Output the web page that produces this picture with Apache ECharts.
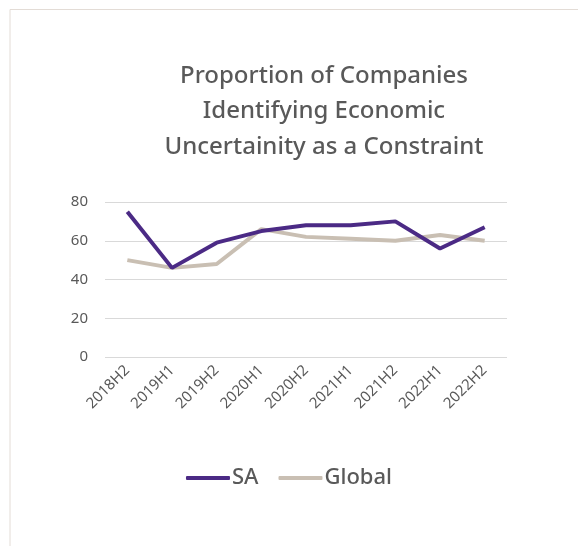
<!DOCTYPE html>
<html>
<head>
<meta charset="utf-8">
<script src="https://cdn.jsdelivr.net/npm/echarts@6/dist/echarts.min.js"></script>
<style>
  html, body { margin: 0; padding: 0; background: #fff; }
  #chart { width: 578px; height: 546px; }
</style>
</head>
<body>
<div id="chart"></div>
<script>
// Half-year periods on the category axis
const periods = ['2018H2', '2019H1', '2019H2', '2020H1', '2020H2', '2021H1', '2021H2', '2022H1', '2022H2'];
// Share of companies (%) naming economic uncertainty as a constraint
const saValues = [75, 46, 59, 65, 68, 68, 70, 56, 67];
const globalValues = [50, 46, 48, 66, 62, 61, 60, 63, 60];
// Value axis ticks
const yTicks = [0, 20, 40, 60, 80];

const textColor = '#595959';
const font = '"Noto Sans", sans-serif';

const chart = echarts.init(document.getElementById('chart'), null, { renderer: 'canvas' });
chart.setOption({
  backgroundColor: '#ffffff',
  animation: false,
  title: {
    text: 'Proportion of Companies\nIdentifying Economic\nUncertainity as a Constraint',
    left: 319,
    top: 53,
    textAlign: 'center',
    textStyle: {
      fontFamily: font,
      fontSize: 24,
      fontWeight: 500,
      color: textColor,
      lineHeight: 35.5
    }
  },
  legend: {
    top: 462,
    left: 'center',
    itemWidth: 44,
    itemHeight: 4,
    itemGap: 20,
    icon: 'roundRect',
    textStyle: { fontFamily: font, fontSize: 22, fontWeight: 500, color: textColor, padding: [0, 0, 0, -3] },
    data: ['SA', 'Global']
  },
  grid: { left: 105, right: 71, top: 202, bottom: 189 },
  xAxis: {
    type: 'category',
    data: periods,
    boundaryGap: true,
    axisLine: { show: false },
    axisTick: { show: false },
    axisLabel: {
      rotate: 45,
      interval: 0,
      margin: 11,
      fontFamily: font,
      fontSize: 15,
      color: textColor
    }
  },
  yAxis: {
    type: 'value',
    min: yTicks[0],
    max: yTicks[yTicks.length - 1],
    interval: 20,
    axisLine: { show: false },
    axisTick: { show: false },
    axisLabel: {
      margin: 17,
      fontFamily: font,
      fontSize: 15,
      color: textColor
    },
    splitLine: { lineStyle: { color: '#d9d9d9', width: 1 } }
  },
  graphic: [
    { type: 'line', shape: { x1: 10, y1: 9.5, x2: 578, y2: 9.5 }, style: { stroke: '#e3dcd6', lineWidth: 1 } },
    { type: 'line', shape: { x1: 10, y1: 9.5, x2: 10, y2: 546 }, style: { stroke: '#e3dcd6', lineWidth: 1 } }
  ],
  series: [
    {
      name: 'SA',
      type: 'line',
      data: saValues,
      symbol: 'none',
      lineStyle: { color: '#4b2a85', width: 4 },
      itemStyle: { color: '#4b2a85' },
      z: 3
    },
    {
      name: 'Global',
      type: 'line',
      data: globalValues,
      symbol: 'none',
      lineStyle: { color: '#c9bfb3', width: 4 },
      itemStyle: { color: '#c9bfb3' },
      z: 2
    }
  ]
});
</script>
</body>
</html>
